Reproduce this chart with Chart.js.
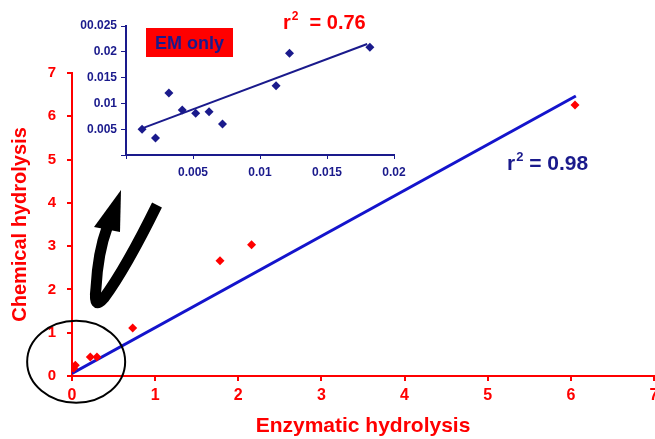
<!DOCTYPE html>
<html>
<head>
<meta charset="utf-8">
<script src="https://cdn.jsdelivr.net/npm/chart.js@4.4.0/dist/chart.umd.min.js"></script>
<style>
    body { margin: 0; overflow: hidden; background: #fff; }
    #wrap { position: relative; width: 655px; height: 439px; overflow: hidden; }
    #mainChart { position: absolute; left: 0; top: 0; }
    #insetChart { position: absolute; left: 0; top: 0; }
</style>
</head>
<body>
<div id="wrap">
    <canvas id="mainChart" width="665" height="439"></canvas>
    <canvas id="insetChart" width="420" height="185"></canvas>
</div>
<script>
// main plot: enzymatic (x) vs chemical (y) hydrolysis
const mainX = [0.02, 0.04, 0.22, 0.30, 0.73, 1.78, 2.16, 6.05];
const mainY = [0.18, 0.25, 0.44, 0.44, 1.11, 2.66, 3.03, 6.26];
const mainFitX = [0.0, 6.06];
const mainFitY = [0.06, 6.47];
const mainTicks = ['0', '1', '2', '3', '4', '5', '6', '7'];

// inset: EM only
const insetX = [0.0012, 0.0022, 0.0032, 0.0042, 0.0052, 0.0062, 0.0072, 0.0112, 0.0122, 0.0182];
const insetY = [0.0050, 0.0033, 0.0120, 0.0087, 0.0081, 0.0084, 0.0060, 0.0134, 0.0197, 0.0209];
const insetFitX = [0.00125, 0.0180];
const insetFitY = [0.0052, 0.0215];
const insetXTicks = ['', '0.005', '0.01', '0.015', '0.02'];
const insetYTicks = ['', '0.005', '0.01', '0.015', '0.02', '00.025'];

const RED = '#ff0000';
const NAVY = '#1a1a8c';
const BLUE = '#1414cc';
const FONT = 'Arial, "Liberation Sans", sans-serif';

function toPoints(xs, ys) {
    return xs.map((x, i) => ({ x: x, y: ys[i] }));
}

// r² label: base "r", raised small "2", then the rest
function drawR2(ctx, x, y, size, rest, color) {
    ctx.save();
    ctx.fillStyle = color;
    ctx.textBaseline = 'alphabetic';
    ctx.textAlign = 'left';
    ctx.font = 'bold ' + size + 'px ' + FONT;
    ctx.fillText('r', x, y);
    x += ctx.measureText('r').width + 1;
    ctx.font = 'bold ' + Math.round(size * 0.62) + 'px ' + FONT;
    ctx.fillText('2', x, y - size * 0.45);
    x += ctx.measureText('2').width;
    ctx.font = 'bold ' + size + 'px ' + FONT;
    ctx.fillText(rest, x, y);
    ctx.restore();
}

const mainDecor = {
    id: 'mainDecor',
    afterDraw(chart) {
        const ctx = chart.ctx;
        const xs = chart.scales.x, ys = chart.scales.y;
        // circle round the cluster near the origin
        ctx.save();
        ctx.strokeStyle = '#000';
        ctx.lineWidth = 2;
        ctx.beginPath();
        ctx.ellipse(xs.getPixelForValue(0.05), ys.getPixelForValue(0.33), 49, 41, 0, 0, Math.PI * 2);
        ctx.stroke();
        // curved arrow pointing up to the inset
        ctx.lineWidth = 11;
        ctx.lineCap = 'butt';
        ctx.lineJoin = 'round';
        ctx.beginPath();
        ctx.moveTo(157, 205);
        ctx.quadraticCurveTo(126, 268, 104, 298);
        ctx.quadraticCurveTo(93, 311, 96, 288);
        ctx.quadraticCurveTo(98, 252, 107, 228);
        ctx.stroke();
        ctx.fillStyle = '#000';
        ctx.beginPath();
        ctx.moveTo(94, 227);
        ctx.lineTo(121, 190);
        ctx.lineTo(120, 232);
        ctx.closePath();
        ctx.fill();
        ctx.restore();
        drawR2(ctx, 507, 170, 21, ' = 0.98', NAVY);
    }
};

const insetDecor = {
    id: 'insetDecor',
    afterDraw(chart) {
        const ctx = chart.ctx;
        ctx.save();
        ctx.fillStyle = RED;
        ctx.fillRect(146, 28, 87, 29);
        ctx.fillStyle = NAVY;
        ctx.font = 'bold 18px ' + FONT;
        ctx.textAlign = 'center';
        ctx.textBaseline = 'alphabetic';
        ctx.fillText('EM only', 189.5, 49);
        ctx.restore();
        drawR2(ctx, 283, 29, 20, '  = 0.76', RED);
    }
};

window.onload = function () {
    const ctx = document.getElementById('mainChart').getContext('2d');
    const mainChart = new Chart(ctx, {
        type: 'scatter',
        data: {
            datasets: [{
                label: 'Samples',
                data: toPoints(mainX, mainY),
                pointStyle: 'rectRot',
                pointRadius: 4.5,
                backgroundColor: RED,
                borderColor: RED,
                borderWidth: 0
            }, {
                label: 'Fit',
                data: toPoints(mainFitX, mainFitY),
                showLine: true,
                pointRadius: 0,
                borderColor: BLUE,
                borderWidth: 3
            }]
        },
        options: {
            responsive: false,
            animation: false,
            devicePixelRatio: 1,
            layout: { padding: { top: 73, right: 11, bottom: 0, left: 0 } },
            plugins: {
                legend: { display: false },
                tooltip: { enabled: false }
            },
            scales: {
                x: {
                    type: 'linear',
                    min: 0,
                    max: 7,
                    border: { color: RED, width: 2 },
                    grid: { drawOnChartArea: false, color: RED, lineWidth: 2, tickLength: 5 },
                    ticks: {
                        stepSize: 1,
                        color: RED,
                        padding: 5,
                        maxRotation: 0,
                        font: { family: FONT, size: 16, weight: 'bold' },
                        callback: (v, i) => mainTicks[i]
                    },
                    title: {
                        display: true,
                        text: 'Enzymatic hydrolysis',
                        color: RED,
                        padding: { top: 0, bottom: 0 },
                        font: { family: FONT, size: 21, weight: 'bold' }
                    },
                    afterFit: (scale) => { scale.height = 63; }
                },
                y: {
                    type: 'linear',
                    min: 0,
                    max: 7,
                    border: { color: RED, width: 2 },
                    grid: { drawOnChartArea: false, color: RED, lineWidth: 2, tickLength: 5 },
                    ticks: {
                        stepSize: 1,
                        color: RED,
                        padding: 11,
                        font: { family: FONT, size: 15, weight: 'bold' },
                        callback: (v, i) => mainTicks[i]
                    },
                    title: {
                        display: true,
                        text: 'Chemical hydrolysis',
                        color: RED,
                        padding: { top: 8, bottom: 0 },
                        font: { family: FONT, size: 20, weight: 'bold' }
                    },
                    afterFit: (scale) => { scale.width = 72; }
                }
            }
        },
        plugins: [mainDecor]
    });

    const ctx2 = document.getElementById('insetChart').getContext('2d');
    const insetChart = new Chart(ctx2, {
        type: 'scatter',
        data: {
            datasets: [{
                label: 'EM only',
                data: toPoints(insetX, insetY),
                pointStyle: 'rectRot',
                pointRadius: 4.5,
                backgroundColor: NAVY,
                borderColor: NAVY,
                borderWidth: 0
            }, {
                label: 'EM fit',
                data: toPoints(insetFitX, insetFitY),
                showLine: true,
                pointRadius: 0,
                borderColor: NAVY,
                borderWidth: 2
            }]
        },
        options: {
            responsive: false,
            animation: false,
            devicePixelRatio: 1,
            layout: { padding: { top: 26, right: 26, bottom: 0, left: 0 } },
            plugins: {
                legend: { display: false },
                tooltip: { enabled: false }
            },
            scales: {
                x: {
                    type: 'linear',
                    min: 0,
                    max: 0.02,
                    border: { color: NAVY, width: 2 },
                    grid: { drawOnChartArea: false, color: NAVY, lineWidth: 1, tickLength: 4 },
                    ticks: {
                        stepSize: 0.005,
                        color: NAVY,
                        padding: 6,
                        maxRotation: 0,
                        font: { family: FONT, size: 12, weight: 'bold' },
                        callback: (v, i) => insetXTicks[i]
                    },
                    afterFit: (scale) => { scale.height = 30; }
                },
                y: {
                    type: 'linear',
                    min: 0,
                    max: 0.025,
                    border: { color: NAVY, width: 2 },
                    grid: { drawOnChartArea: false, color: NAVY, lineWidth: 1, tickLength: 5 },
                    ticks: {
                        stepSize: 0.005,
                        color: NAVY,
                        padding: 4,
                        font: { family: FONT, size: 12, weight: 'bold' },
                        callback: (v, i) => insetYTicks[i]
                    },
                    afterFit: (scale) => { scale.width = 126; }
                }
            }
        },
        plugins: [insetDecor]
    });
};
</script>
</body>
</html>
